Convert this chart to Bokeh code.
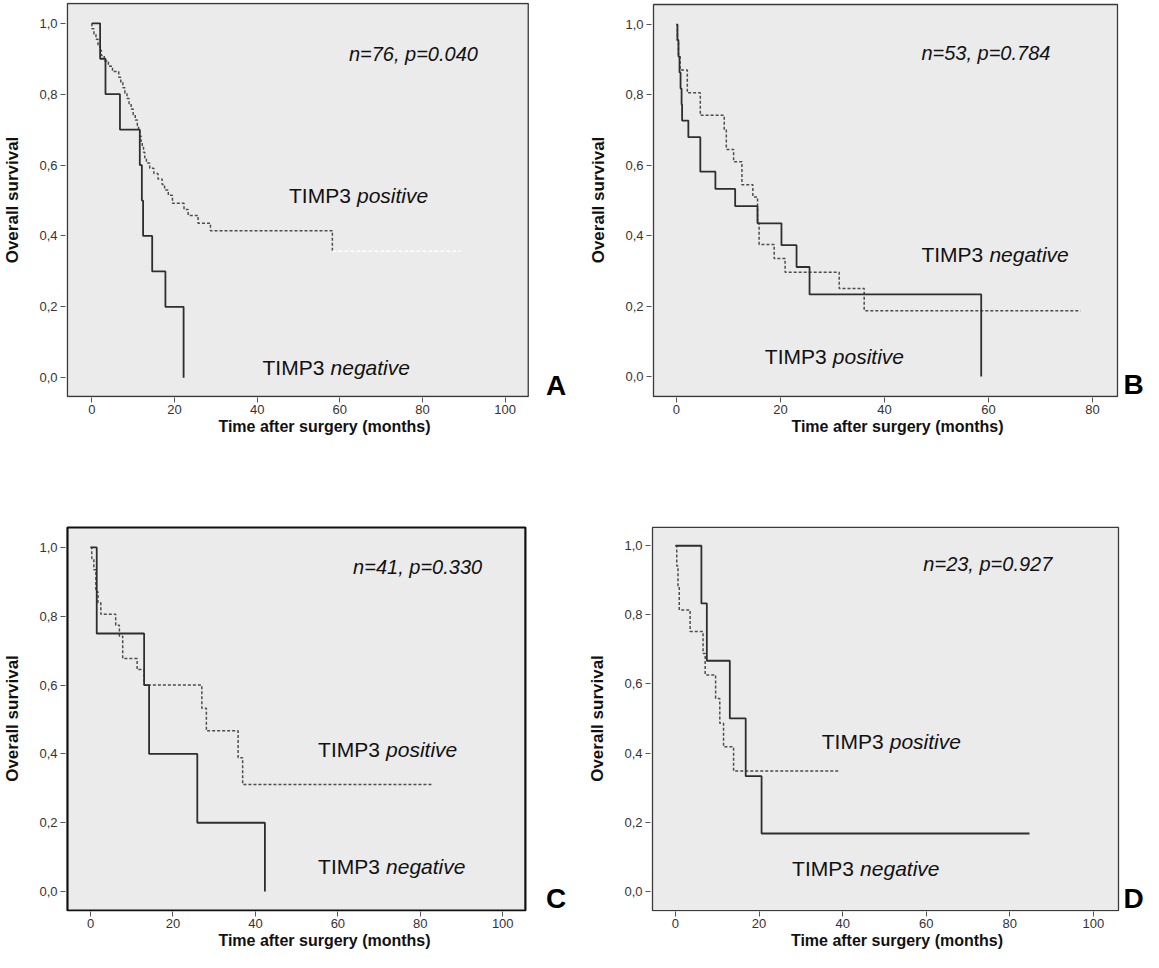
from bokeh.plotting import figure
from bokeh.models import Label, FixedTicker, Range1d
from bokeh.layouts import column, row
from bokeh.embed import file_html
from bokeh.resources import INLINE

# ---------------- data (Kaplan-Meier step points: time in months, survival) ----------------
A_neg_t = [0, 2.0, 3.3, 6.8, 11.6, 12.1, 12.4, 14.6, 17.8, 22.2]
A_neg_s = [1.0, 0.9, 0.8, 0.7, 0.6, 0.5, 0.4, 0.3, 0.2, 0.0]
A_pos_t = [0, 0, 0.5, 1.0, 1.5, 2.0, 2.3, 3.0, 4.0, 5.0, 6.5, 7.0, 7.5, 8.0, 8.5, 9.0,
           9.5, 10.0, 10.5, 11.0, 11.3, 11.6, 11.9, 12.2, 12.5, 12.8, 13.2, 14.0, 15.0,
           16.0, 17.0, 17.6, 18.5, 19.5, 22.3, 23.3, 25.7, 28.7, 58.2, 89.2]
A_pos_s = [1.0, 0.985, 0.970, 0.955, 0.939, 0.924, 0.909, 0.894, 0.879, 0.864, 0.848, 0.833,
           0.818, 0.803, 0.788, 0.773, 0.758, 0.742, 0.727, 0.712, 0.697, 0.682, 0.667, 0.652,
           0.636, 0.621, 0.606, 0.591, 0.576, 0.561, 0.545, 0.530, 0.515, 0.492, 0.475, 0.458,
           0.436, 0.415, 0.357, 0.357]

B_neg_t = [0, 0.2, 0.4, 0.6, 0.8, 1.0, 1.1, 2.3, 4.6, 7.5, 11.3, 15.6, 20.2, 23.1, 25.6, 58.6]
B_neg_s = [1.0, 0.955, 0.909, 0.864, 0.818, 0.773, 0.727, 0.680, 0.582, 0.533, 0.484, 0.435,
           0.373, 0.311, 0.233, 0.0]
B_pos_t = [0, 0.2, 0.4, 0.7, 2.1, 4.6, 9.2, 9.6, 11.0, 12.6, 14.7, 15.6, 15.9, 18.8, 20.9,
           31.3, 36.1, 77.7]
B_pos_s = [1.0, 0.957, 0.914, 0.871, 0.806, 0.742, 0.700, 0.645, 0.610, 0.545, 0.510, 0.436,
           0.375, 0.335, 0.296, 0.250, 0.187, 0.187]

C_neg_t = [0, 1.5, 13.0, 14.2, 25.9, 42.3]
C_neg_s = [1.0, 0.75, 0.60, 0.40, 0.20, 0.0]
C_pos_t = [0, 0.3, 0.8, 1.3, 1.8, 2.5, 6.1, 7.0, 7.8, 11.3, 13.0, 27.0, 28.1, 35.8, 36.9, 82.7]
C_pos_s = [1.0, 0.968, 0.935, 0.871, 0.839, 0.806, 0.774, 0.742, 0.677, 0.645, 0.600, 0.533,
           0.467, 0.389, 0.311, 0.311]

D_neg_t = [0, 6.2, 7.5, 13.0, 16.8, 20.6, 84.7]
D_neg_s = [1.0, 0.833, 0.667, 0.500, 0.333, 0.167, 0.167]
D_pos_t = [0, 0.3, 0.6, 0.9, 3.5, 6.6, 7.1, 9.6, 10.6, 11.5, 13.9, 39.4]
D_pos_s = [1.0, 0.941, 0.882, 0.814, 0.752, 0.688, 0.626, 0.558, 0.486, 0.418, 0.348, 0.348]

y_ticks = [0.0, 0.2, 0.4, 0.6, 0.8, 1.0]
y_tick_labels = ["0,0", "0,2", "0,4", "0,6", "0,8", "1,0"]
x_ticks_100 = [0, 20, 40, 60, 80, 100]
x_ticks_80 = [0, 20, 40, 60, 80]

stats = ["n=76, p=0.040", "n=53, p=0.784", "n=41, p=0.330", "n=23, p=0.927"]
panel_letters = ["A", "B", "C", "D"]

SANS = "Liberation Sans"


def make_panel(cw, ch, bl, br, bt, bb, x0, x1, y0, y1, xticks, box_color="#3a3a3a", box_w=1.3):
    """cw,ch: canvas size; bl,br,bt,bb: plot box edges in canvas px; x0..y1: data at box edges."""
    ppx = (br - bl) / (x1 - x0)
    ppy = (bb - bt) / (y1 - y0)
    pad = 2
    ptop = min(pad, bt)
    fl, fr, ft, fb = bl - pad, cw, bt - ptop, bb + 1
    xr = (x0 - pad / ppx, x0 + (fr - bl) / ppx)
    yr = (y0 - 1 / ppy, y1 + ptop / ppy)
    p = figure(width=cw, height=ch, min_border_left=fl, min_border_right=cw - fr,
               min_border_top=ft, min_border_bottom=ch - fb,
               x_range=Range1d(*xr), y_range=Range1d(*yr),
               output_backend="svg", toolbar_location=None)
    p.background_fill_color = "white"
    p.border_fill_color = "white"
    p.outline_line_color = None
    p.grid.visible = False
    # grey plot box
    p.quad(left=[x0], right=[x1], bottom=[y0], top=[y1], fill_color="#ebebeb",
           line_color=box_color, line_width=box_w)
    for ax in (p.xaxis[0], p.yaxis[0]):
        ax.axis_line_color = None
        ax.major_tick_line_color = "#555555"
        ax.major_tick_out = 5
        ax.major_tick_in = 0
        ax.minor_tick_line_color = None
        ax.major_label_text_font = SANS
        ax.major_label_text_font_size = "13px"
        ax.major_label_text_color = "#333333"
        ax.axis_label_text_color = "#111111"
        ax.axis_label_text_font = SANS
        ax.axis_label_text_font_style = "bold"
    p.xaxis.ticker = FixedTicker(ticks=xticks)
    p.yaxis.ticker = FixedTicker(ticks=y_ticks)
    p.yaxis.major_label_overrides = {t: l for t, l in zip(y_ticks, y_tick_labels)}
    p.xaxis.axis_label = "Time after surgery (months)"
    p.xaxis.axis_label_text_font_size = "16px"
    p.xaxis.axis_label_standoff = 1
    p.xaxis.major_label_standoff = 2
    p.yaxis.axis_label = "Overall survival"
    p.yaxis.axis_label_text_font_size = "17px"
    p.yaxis.axis_label_standoff = 14
    p.yaxis.major_label_standoff = 3
    p._geo = (bl, bt, ppx, ppy, x0, y1)
    return p


def curves(p, neg_t, neg_s, pos_t, pos_s, white_tail=False):
    if white_tail:
        p.step(x=pos_t[:-1], y=pos_s[:-1], mode="after", line_color="#4d4d4d",
               line_width=1.5, line_dash="3 2")
        p.step(x=pos_t[-2:], y=pos_s[-2:], mode="after", line_color="#ffffff",
               line_width=1.6, line_dash="4 2")
    else:
        p.step(x=pos_t, y=pos_s, mode="after", line_color="#4d4d4d",
               line_width=1.5, line_dash="3 2")
    p.step(x=neg_t, y=neg_s, mode="after", line_color="#2e2e2e", line_width=1.8)


def texts(p, stat, sx, sy, pos_xy, neg_xy, letter, letter_px):
    p.add_layout(Label(x=sx, y=sy, text=stat, text_font=SANS, text_font_style="italic",
                       text_font_size="20px", text_color="#111111",
                       text_align="left", text_baseline="middle"))
    for (x, y), word in ((pos_xy, "positive"), (neg_xy, "negative")):
        p.add_layout(Label(x=x, y=y, text="TIMP3", text_font=SANS, text_font_size="21px",
                           text_color="#111111", text_align="left", text_baseline="middle"))
        p.add_layout(Label(x=x, y=y, x_offset=68, text=word, text_font=SANS,
                           text_font_style="italic", text_font_size="21px",
                           text_color="#111111", text_align="left", text_baseline="middle"))
    bl, bt, ppx, ppy, x0, y1 = p._geo
    lx = x0 + (letter_px[0] - bl) / ppx
    ly = y1 - (letter_px[1] - bt) / ppy
    p.add_layout(Label(x=lx, y=ly, text=letter, text_font=SANS, text_font_style="bold",
                       text_font_size="28px", text_color="#000000",
                       text_align="left", text_baseline="middle"))


# ---------------- panels ----------------
pA = make_panel(583, 490, 60, 527, 1, 401, -5.9, 105.6, -0.053, 1.056, x_ticks_100)
curves(pA, A_neg_t, A_neg_s, A_pos_t, A_pos_s, white_tail=True)
texts(pA, stats[0], 62.2, 0.914, (47.7, 0.513), (41.3, 0.028), panel_letters[0], (545, 390))

pB = make_panel(560, 490, 70, 534, 4, 396, -4.4, 84.8, -0.057, 1.057, x_ticks_80)
curves(pB, B_neg_t, B_neg_s, B_pos_t, B_pos_s)
texts(pB, stats[1], 47.1, 0.92, (17.0, 0.056), (47.1, 0.347), panel_letters[1], (540, 384))

pC = make_panel(583, 462, 59, 524, 37, 420, -5.6, 105.5, -0.055, 1.058, x_ticks_100,
                box_color="#111111", box_w=2.2)
curves(pC, C_neg_t, C_neg_s, C_pos_t, C_pos_s)
texts(pC, stats[2], 63.7, 0.944, (55.2, 0.414), (55.2, 0.072), panel_letters[2], (545, 408))

pD = make_panel(560, 462, 69, 535, 23, 420, -5.5, 106.0, -0.056, 1.053, x_ticks_100)
curves(pD, D_neg_t, D_neg_s, D_pos_t, D_pos_s)
texts(pD, stats[3], 59.3, 0.947, (35.0, 0.434), (27.9, 0.065), panel_letters[3], (540, 408))

layout = column(row(pA, pB), row(pC, pD))

open("out.html", "w").write(file_html(layout, INLINE))
